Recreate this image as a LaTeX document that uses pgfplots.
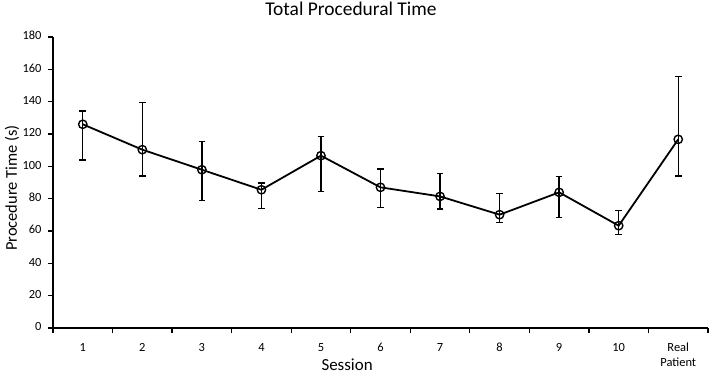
\documentclass[border=0pt]{standalone}
\usepackage{pgfplots}
\pgfplotsset{compat=1.18}
\usepackage{pgfplotstable}
\usepackage{fontspec}
\setmainfont{Carlito}

% session, mean, upper and lower error
\pgfplotstableread{
x  y      ep    em
0  126.0  8.2   22.1
1  110.3  29.3  16.3
2  97.9   17.3  19.2
3  85.5   4.2   11.5
4  106.6  11.7  22.3
5  87.0   11.3  12.6
6  81.4   14.0  7.8
7  70.1   13.0  5.0
8  83.9   9.9   15.5
9  63.3   9.5   5.6
10 116.7  38.7  22.7
}\timedata

\begin{document}
\begin{tikzpicture}
\path[use as bounding box] (0,0) rectangle (709bp,376bp);
\begin{axis}[
  at={(53bp,48bp)}, anchor=south west,
  scale only axis, width=655bp, height=291bp,
  xmin=-0.5, xmax=10.5, ymin=0, ymax=180,
  axis x line*=bottom, axis y line*=left,
  axis line style={line width=1.4pt, black},
  xtick={0,...,10},
  xticklabels={1,2,3,4,5,6,7,8,9,10,{Real\\Patient}},
  xticklabel style={align=center, font=\fontsize{12.5}{15}\selectfont, yshift=-5bp},
  typeset ticklabels with strut,
  major x tick style={draw=none},
  minor xtick={-0.5,0.5,...,10.5},
  minor tick length=5bp,
  minor x tick style={line width=1.2pt, black},
  ytick={0,20,...,180},
  major tick length=5bp,
  ytick style={line width=1.2pt, black},
  tick align=outside,
  yticklabel style={font=\fontsize{12.5}{14}\selectfont, xshift=-3bp},
  /pgf/number format/assume math mode=true,
  title={Total Procedural Time},
  title style={font=\fontsize{19.5}{21}\selectfont,
    at={(axis description cs:0.455,1.055)}, anchor=base},
  xlabel={Session},
  ylabel={Procedure Time (s)},
  xlabel style={font=\fontsize{17}{19}\selectfont,
    at={(axis description cs:0.449,-0.146)}, anchor=base},
  ylabel style={font=\fontsize{16.5}{18}\selectfont,
    at={(axis description cs:-0.0626,0.481)}, anchor=center},
  clip=false,
]
\addplot[black, line width=1.8pt, mark=o, mark size=4.2bp,
  mark options={line width=1.4pt, fill=none},
  error bars/.cd, y dir=both, y explicit,
  error bar style={line width=1.4pt, black},
  error mark options={rotate=90, mark size=3.3bp, line width=1.4pt}]
  table[x=x, y=y, y error plus=ep, y error minus=em] {\timedata};
\end{axis}
\end{tikzpicture}
\end{document}
